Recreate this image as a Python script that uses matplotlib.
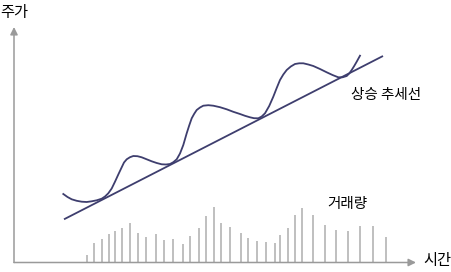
import numpy as np
import matplotlib.pyplot as plt

plt.rcParams['font.family'] = ['Noto Sans CJK KR', 'DejaVu Sans']

curve_x = [63.3, 67.5, 71.7, 76.7, 81.7, 86.7, 91.7, 96.7, 101.7, 105,
           108.3, 111.7, 115, 118.3, 121.7, 124, 126.7, 130, 133.3, 137.5,
           141.7, 146.7, 151.7, 156.7, 161.7, 166, 170, 173.3, 176.7, 180,
           183.3, 186.7, 189.2, 191.7, 194.2, 196.7, 200, 203.3, 208.3, 213.3,
           220, 226.7, 233.3, 240, 245, 250, 254, 258.3, 261.7, 265,
           269.2, 273.3, 276.7, 280, 283.3, 286.7, 290.8, 295, 299.2, 303.3,
           308.3, 313.3, 320, 326.7, 332.5, 338.3, 342.5, 346.7, 349.2, 351.7,
           354.2, 356.7, 360]
curve_y = [194, 197, 199.3, 200.8, 201.7, 202, 201.3, 200.3, 198.7, 196.5,
           193.3, 188.5, 181.7, 174.5, 167.3, 162.5, 159.3, 157.2, 156, 156.2,
           157.3, 159.3, 161.3, 163, 164.3, 164.5, 164, 162.2, 159.3, 153.5,
           145, 133.3, 125.5, 118.3, 113.8, 110, 107.5, 105.7, 105.2, 105.7,
           107.2, 109.3, 111.8, 114, 115.8, 117.3, 118.2, 118.3, 116.5, 113.3,
           106, 96.7, 88, 80, 74.5, 70, 66.5, 64, 63.3, 63.3,
           64.5, 66, 69, 72.3, 75, 77.3, 77.3, 76, 73.5, 70,
           66, 61.7, 55.7]

# rising trend line end points
trend_x = [64, 383]
trend_y = [219.3, 56]

# trading volume bars
vol_x = [87.3, 93.7, 101.7, 109, 114.7, 121.7, 130.3, 138, 146, 156.3,
         164, 173.3, 182.7, 190.3, 198.7, 206, 213.7, 221.3, 230.3, 241.3,
         248.3, 257, 265.7, 275.3, 280.3, 288.3, 294.7, 302.3, 313, 324.7,
         336.3, 347.7, 359.7, 373.3, 385.7]
vol_h = [7.7, 20, 23.4, 29, 31.4, 35, 39.4, 30, 26, 29,
         23, 23.4, 19, 26.4, 34.4, 47, 55.7, 40, 35.7, 29.7,
         25, 21.5, 20.3, 19.7, 27.7, 35, 48, 54.7, 47.7, 38,
         33, 31.7, 36.3, 36.3, 25.7]

base = 262.5
axis_col = '#9a9a9a'
line_col = '#3e3e6e'

fig = plt.figure(figsize=(4.52, 2.72), dpi=100)
ax = fig.add_axes([0, 0, 1, 1])
ax.set_xlim(0, 452)
ax.set_ylim(272, 0)
ax.axis('off')

# axes with arrows
ax.annotate('', xy=(14, 27), xytext=(14, base),
            arrowprops=dict(arrowstyle='-|>', color=axis_col, lw=1.1,
                            mutation_scale=11, shrinkA=0, shrinkB=0))
ax.annotate('', xy=(416, base), xytext=(14, base),
            arrowprops=dict(arrowstyle='-|>', color=axis_col, lw=1.1,
                            mutation_scale=11, shrinkA=0, shrinkB=0))

ax.vlines(vol_x, base, base - np.array(vol_h), color='#b4b4b4', lw=1.2)

ax.plot(trend_x, trend_y, color=line_col, lw=1.3, solid_capstyle='butt')
ax.plot(curve_x, curve_y, color=line_col, lw=1.3, solid_joinstyle='round')

ax.text(14, 12, '주가', ha='center', va='center', fontsize=11)
ax.text(437, 261, '시간', ha='center', va='center', fontsize=11)
ax.text(386, 95, '상승 추세선', ha='center', va='center', fontsize=10.5)
ax.text(347, 204, '거래량', ha='center', va='center', fontsize=10.5)

plt.savefig('out.png', dpi=100)
